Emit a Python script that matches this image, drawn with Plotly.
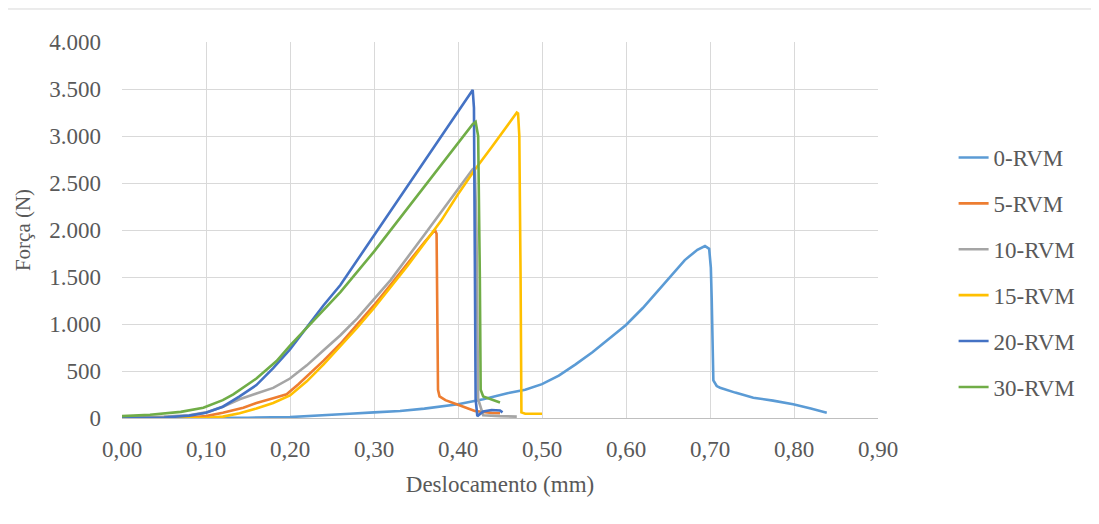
import plotly.graph_objects as go

names = ["0-RVM", "5-RVM", "10-RVM", "15-RVM", "20-RVM", "30-RVM"]
colors = ["#5B9BD5", "#ED7D31", "#A5A5A5", "#FFC000", "#4472C4", "#70AD47"]

x0 = [0, 0.10, 0.15, 0.20, 0.25, 0.271, 0.30, 0.331, 0.36, 0.40, 0.43, 0.46, 0.48, 0.50, 0.52, 0.54,
      0.56, 0.58, 0.60, 0.62, 0.64, 0.656, 0.67, 0.685, 0.694, 0.699, 0.701, 0.702, 0.703, 0.704,
      0.708, 0.712, 0.73, 0.7516, 0.775, 0.799, 0.82, 0.839]
y0 = [0, 0, 3, 10, 30, 45, 60, 75, 100, 146, 200, 265, 300, 360, 450, 570,
      700, 840, 990, 1170, 1370, 1530, 1680, 1790, 1830, 1800, 1600, 1280, 800, 400,
      340, 322, 270, 216, 185, 146, 100, 57]

x5 = [0, 0.08, 0.10, 0.12, 0.1444, 0.16, 0.18, 0.196, 0.21, 0.22, 0.24, 0.26, 0.28, 0.30, 0.32,
      0.34, 0.36, 0.3726, 0.3745, 0.3755, 0.3762, 0.378, 0.385, 0.40, 0.42, 0.44, 0.45]
y5 = [0, 5, 20, 55, 110, 160, 210, 252, 360, 440, 610, 790, 990, 1200, 1420,
      1650, 1870, 2000, 1960, 1000, 300, 230, 190, 140, 74, 55, 50]

x10 = [0, 0.05, 0.08, 0.10, 0.12, 0.14, 0.16, 0.18, 0.20, 0.22, 0.24, 0.26, 0.28, 0.30, 0.32,
       0.36, 0.40, 0.4175, 0.42, 0.422, 0.424, 0.43, 0.45, 0.47]
y10 = [10, 15, 30, 60, 120, 200, 260, 320, 420, 560, 720, 880, 1060, 1260, 1470,
       1950, 2430, 2646, 2660, 2000, 200, 30, 20, 15]

x15 = [0, 0.10, 0.12, 0.14, 0.16, 0.18, 0.20, 0.22, 0.24, 0.26, 0.28, 0.30, 0.32, 0.34, 0.36,
       0.38, 0.40, 0.42, 0.44, 0.46, 0.47, 0.4715, 0.473, 0.4745, 0.4755, 0.48, 0.50]
y15 = [0, 0, 15, 50, 100, 160, 240, 390, 570, 760, 960, 1170, 1390, 1620, 1860,
       2100, 2380, 2640, 2880, 3130, 3249, 3240, 3000, 1500, 60, 45, 45]

x20 = [0, 0.05, 0.08, 0.10, 0.12, 0.14, 0.16, 0.18, 0.20, 0.22, 0.24, 0.26, 0.30, 0.34, 0.38,
       0.4175, 0.419, 0.420, 0.421, 0.423, 0.43, 0.44, 0.45, 0.453]
y20 = [0, 5, 25, 55, 120, 230, 350, 530, 730, 960, 1200, 1415, 1945, 2475, 3005,
       3490, 3300, 1500, 200, 20, 70, 85, 80, 60]

x30 = [0, 0.0333, 0.07, 0.0968, 0.12, 0.1325, 0.16, 0.184, 0.20, 0.22, 0.24, 0.26, 0.30, 0.34, 0.38,
       0.4175, 0.421, 0.424, 0.426, 0.427, 0.43, 0.44, 0.45]
y30 = [20, 35, 65, 110, 190, 252, 420, 606, 770, 960, 1150, 1340, 1770, 2230, 2690,
       3125, 3150, 3000, 1500, 300, 230, 200, 165]

xs = [x0, x5, x10, x15, x20, x30]
ys = [y0, y5, y10, y15, y20, y30]

x_ticks = [0, 0.1, 0.2, 0.3, 0.4, 0.5, 0.6, 0.7, 0.8, 0.9]
y_ticks = [0, 500, 1000, 1500, 2000, 2500, 3000, 3500, 4000]

font_family = "Liberation Serif, Times New Roman, serif"
txt = "#595959"

fig = go.Figure()
for i, (n, c) in enumerate(zip(names, colors)):
    fig.add_trace(go.Scatter(x=xs[i], y=ys[i], mode="lines", name=n,
                             line=dict(color=c, width=2.6), legendgroup=n))

fig.update_layout(
    width=1099, height=524,
    margin=dict(l=114, r=229, t=34, b=114),
    paper_bgcolor="white", plot_bgcolor="white",
    separators=",.",
    font=dict(family=font_family, size=23, color=txt),
    showlegend=True,
    legend=dict(x=1.10, y=0.750, xanchor="left", yanchor="top",
                traceorder="grouped", tracegroupgap=13,
                font=dict(family=font_family, size=23, color=txt),
                bgcolor="rgba(0,0,0,0)"),
    xaxis=dict(range=[0, 0.9], tickvals=x_ticks, tickformat=".2f",
               showgrid=True, gridcolor="#D9D9D9", gridwidth=1,
               showline=True, linecolor="#BFBFBF", linewidth=1,
               zeroline=False, ticks="", ticklabelstandoff=10,
               tickfont=dict(size=23, color=txt),
               title=dict(text="Deslocamento (mm)", font=dict(size=23, color=txt), standoff=15)),
    yaxis=dict(range=[0, 4000], tickvals=y_ticks, tickformat=",.0f",
               showgrid=True, gridcolor="#D9D9D9", gridwidth=1,
               showline=False, zeroline=False, ticks="", ticklabelstandoff=20,
               tickfont=dict(size=23, color=txt),
               title=dict(text="Força (N)", font=dict(size=21, color=txt), standoff=12)),
    shapes=[dict(type="line", xref="paper", yref="paper", x0=-0.17, x1=1.3,
                 y0=1.0878, y1=1.0878, line=dict(color="#D9D9D9", width=1))],
)

fig.write_html("out.html")
